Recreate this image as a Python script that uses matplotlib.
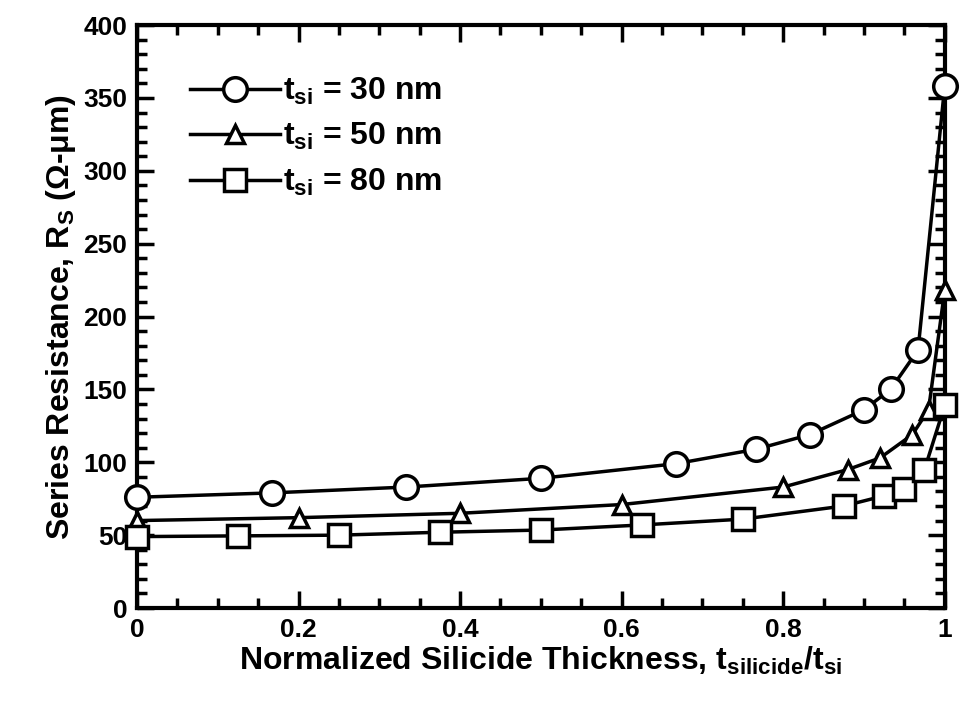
import matplotlib
matplotlib.use('Agg')
import matplotlib.pyplot as plt
from matplotlib.ticker import MultipleLocator

plt.rcParams['font.family'] = ['Liberation Sans', 'DejaVu Sans']
plt.rcParams['mathtext.default'] = 'regular'

# data
x_30 = [0, 0.167, 0.333, 0.5, 0.667, 0.767, 0.833, 0.9, 0.933, 0.967, 1.0]
rs_30 = [76, 79, 83, 89, 99, 109, 119, 136, 150, 177, 358]

x_50 = [0, 0.2, 0.4, 0.6, 0.8, 0.88, 0.92, 0.96, 0.98, 1.0]
rs_50 = [60, 62, 65, 71, 83, 95, 103, 119, 136, 218]

x_80 = [0, 0.125, 0.25, 0.375, 0.5, 0.625, 0.75, 0.875, 0.925, 0.95, 0.975, 1.0]
rs_80 = [49, 49.5, 50, 52, 53.5, 57, 61, 70, 77, 82, 95, 139]

labels = [r'$t_{si}$ = 30 nm', r'$t_{si}$ = 50 nm', r'$t_{si}$ = 80 nm']
xticks = [0, 0.2, 0.4, 0.6, 0.8, 1.0]
xticklabels = ['0', '0.2', '0.4', '0.6', '0.8', '1']
yticks = [0, 50, 100, 150, 200, 250, 300, 350, 400]

fig = plt.figure(figsize=(9.62, 7.17), dpi=100)
ax = fig.add_axes([0.1424, 0.152, 0.8396, 0.813])

common = dict(color='black', linewidth=2.5, markerfacecolor='white',
              markeredgecolor='black', markeredgewidth=2.5, clip_on=False)
ax.plot(x_30, rs_30, marker='o', markersize=17, label=labels[0], zorder=3, **common)
ax.plot(x_50, rs_50, marker='^', markersize=13, label=labels[1], zorder=3, **common)
ax.plot(x_80, rs_80, marker='s', markersize=16, label=labels[2], zorder=3, **common)

ax.set_xlim(0, 1)
ax.set_ylim(0, 400)
ax.set_xticks(xticks)
ax.set_xticklabels(xticklabels)
ax.set_yticks(yticks)
ax.xaxis.set_minor_locator(MultipleLocator(0.05))
ax.yaxis.set_minor_locator(MultipleLocator(10))

ax.tick_params(which='both', direction='in', top=True, right=True, width=2.5)
ax.tick_params(which='major', length=12, labelsize=19, pad=7)
ax.tick_params(which='minor', length=7)
for lab in ax.get_xticklabels() + ax.get_yticklabels():
    lab.set_fontweight('bold')
for sp in ax.spines.values():
    sp.set_linewidth(3)

ax.set_xlabel(r'Normalized Silicide Thickness, $t_{silicide}/t_{si}$',
              fontsize=23, fontweight='bold', labelpad=2)
ax.set_ylabel(r'Series Resistance, $R_S$ ($\Omega$-$\mu$m)',
              fontsize=23, fontweight='bold', labelpad=4)

leg = ax.legend(loc='upper left', bbox_to_anchor=(0.05, 0.935), frameon=False,
                fontsize=23, handlelength=2.8, handletextpad=0.1,
                labelspacing=0.45, borderaxespad=0)
for t in leg.get_texts():
    t.set_fontweight('bold')

fig.savefig('out.png', dpi=100)
